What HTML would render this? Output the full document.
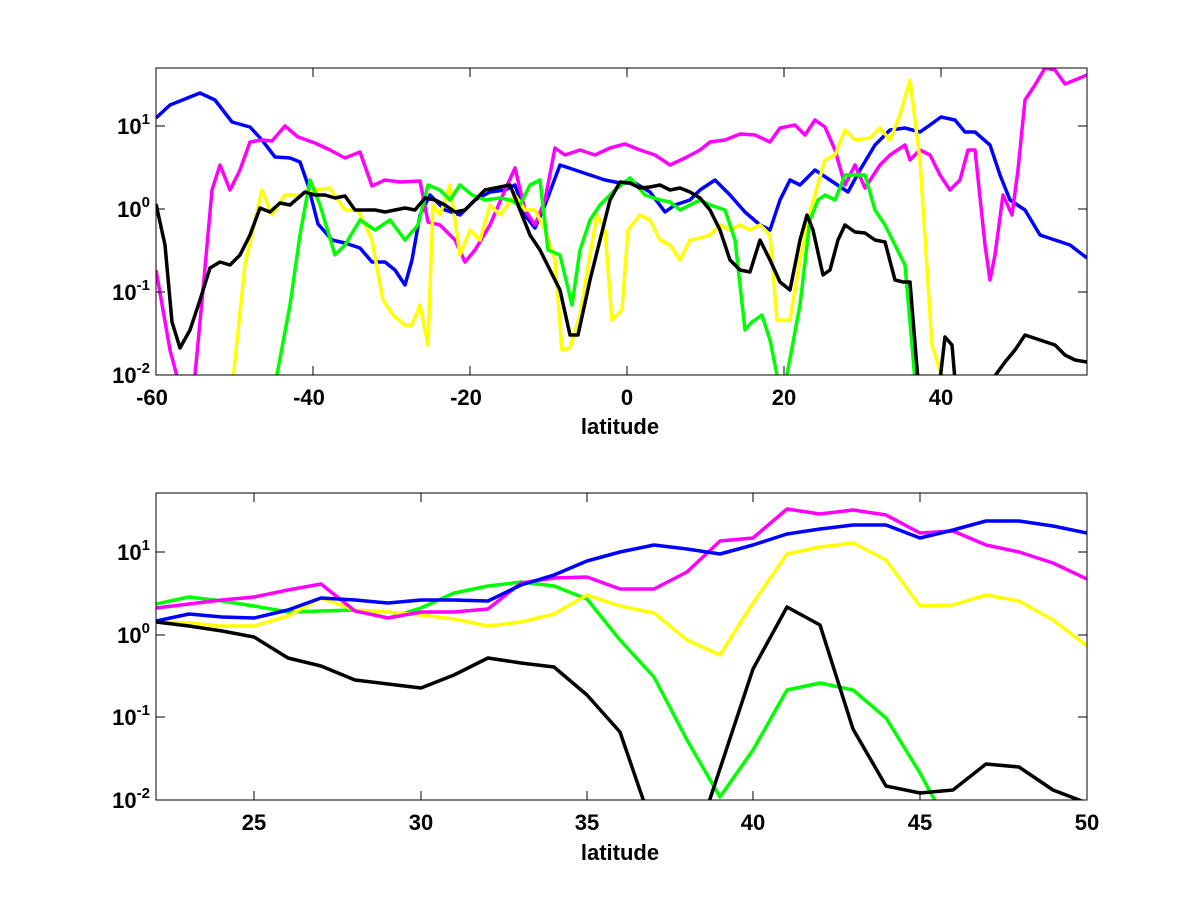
<!DOCTYPE html>
<html><head><meta charset="utf-8"><style>
body{margin:0;background:#fff;}
text{font-family:"Liberation Sans",sans-serif;fill:#000;font-weight:bold;}
</style></head><body>
<svg width="1200" height="900" xmlns="http://www.w3.org/2000/svg">
<defs>
<clipPath id="c1"><rect x="156" y="68" width="931" height="307"/></clipPath>
<clipPath id="c2"><rect x="156" y="493" width="931" height="307"/></clipPath>
</defs>
<rect width="1200" height="900" fill="#fff"/>
<g clip-path="url(#c1)" fill="none" stroke-width="3.5" stroke-linejoin="round">
<polyline stroke="#0000ff" points="156,118 170,105 185,99 200,93 215,100 232,122 250,127 262,140 275,157 290,158 300,162 308,185 318,224 332,240 345,243 360,248 372,262 385,262 395,270 405,285 412,260 420,215 430,195 445,210 460,215 475,200 490,192 505,190 515,185 525,215 535,228 545,205 560,165 575,170 590,175 605,180 620,183 635,183 650,192 665,212 675,205 690,200 700,190 715,180 730,195 745,212 760,225 770,230 780,200 790,180 800,185 815,170 830,180 848,192 860,170 875,145 890,130 905,128 920,132 930,125 941,117 955,120 965,132 975,132 990,145 1000,175 1010,200 1025,210 1040,235 1055,240 1070,245 1087,258"/>
<polyline stroke="#ff00ff" points="156,270 163,310 170,350 178,380 190,380 195,375 203,290 212,190 220,165 230,190 240,170 250,142 262,140 272,141 285,126 298,137 315,143 330,150 345,158 360,152 372,186 385,180 400,182 420,181 428,222 440,225 455,240 465,262 475,250 490,225 505,190 515,168 525,210 535,225 545,200 555,148 565,155 580,150 595,155 610,148 625,144 640,150 655,155 670,165 685,158 700,150 710,142 725,140 740,134 755,135 770,142 780,128 795,125 805,135 815,120 825,127 835,150 845,185 855,165 865,188 880,165 890,155 905,145 910,160 920,150 930,155 940,175 950,190 960,180 968,150 975,150 985,245 990,280 995,255 1003,195 1012,215 1018,170 1025,100 1035,85 1045,68 1055,70 1065,84 1075,80 1087,75"/>
<polyline stroke="#ffff00" points="233,380 245,265 262,190 272,215 285,195 300,195 315,190 330,188 345,210 358,210 372,240 383,300 393,315 405,325 412,325 420,305 428,345 433,205 440,215 450,185 460,255 470,230 480,240 490,205 500,215 515,195 525,210 535,210 545,230 555,260 562,350 570,348 580,315 590,255 597,215 605,230 612,320 622,310 628,230 640,215 650,220 660,240 670,245 680,260 690,240 700,238 710,235 720,225 730,230 740,225 750,230 760,225 770,235 777,320 790,320 800,260 812,205 825,160 835,155 845,130 855,140 870,138 880,128 890,140 900,115 910,80 920,160 932,345 940,370 945,380"/>
<polyline stroke="#00ff00" points="276,380 290,305 300,235 310,180 320,205 335,255 345,245 360,220 375,230 390,220 405,240 418,225 428,185 440,190 450,200 460,185 472,195 485,200 500,198 510,200 520,205 530,185 540,180 548,250 560,255 572,305 580,250 590,220 600,205 615,190 630,178 645,195 660,200 670,202 680,210 690,205 700,200 710,205 725,210 735,240 745,330 752,322 762,315 770,340 778,380"/>
<polyline stroke="#00ff00" points="786,380 800,305 810,220 818,200 825,195 835,200 845,175 855,175 865,175 875,210 885,225 895,245 905,265 915,380"/>
<polyline stroke="#000000" points="156,204 165,245 172,322 180,348 190,330 200,300 210,268 220,262 230,265 240,255 250,235 260,208 270,212 280,203 290,205 305,192 315,195 325,195 335,198 345,196 355,210 365,210 375,210 385,212 395,210 405,208 415,210 425,198 435,200 445,205 455,212 465,210 475,200 485,190 495,188 510,185 520,210 530,235 540,250 550,270 560,290 570,335 578,335 590,280 600,240 610,200 620,182 630,183 640,188 650,187 660,185 670,190 680,188 690,192 700,198 710,210 720,230 730,260 740,270 750,272 760,240 770,260 780,282 790,290 800,240 807,215 813,230 823,275 830,270 838,240 845,225 855,232 865,233 875,240 885,242 895,280 903,282 910,282 918,380"/>
<polyline stroke="#000000" points="940,380 945,337 952,345 955,380"/>
<polyline stroke="#000000" points="992,380 1005,362 1015,350 1025,335 1040,340 1055,345 1065,355 1075,360 1087,362"/>
</g>
<rect x="156" y="68" width="931" height="307" fill="none" stroke="#000" stroke-width="1"/>
<g stroke="#000" stroke-width="1">
<line x1="313" y1="375" x2="313" y2="366"/><line x1="470" y1="375" x2="470" y2="366"/><line x1="627" y1="375" x2="627" y2="366"/><line x1="784" y1="375" x2="784" y2="366"/><line x1="941" y1="375" x2="941" y2="366"/>
<line x1="313" y1="68" x2="313" y2="77"/><line x1="470" y1="68" x2="470" y2="77"/><line x1="627" y1="68" x2="627" y2="77"/><line x1="784" y1="68" x2="784" y2="77"/><line x1="941" y1="68" x2="941" y2="77"/>
<line x1="156" y1="292" x2="165" y2="292"/><line x1="156" y1="209" x2="165" y2="209"/><line x1="156" y1="126" x2="165" y2="126"/>
<line x1="1087" y1="292" x2="1078" y2="292"/><line x1="1087" y1="209" x2="1078" y2="209"/><line x1="1087" y1="126" x2="1078" y2="126"/>
</g>
<g font-size="22" text-anchor="middle">
<text x="152" y="405">-60</text><text x="309" y="405">-40</text><text x="466" y="405">-20</text><text x="627" y="405">0</text><text x="784" y="405">20</text><text x="941" y="405">40</text>
<text x="620" y="434">latitude</text>
</g>
<g font-size="22" text-anchor="end">
<text x="150" y="383">10<tspan font-size="15" dy="-10">-2</tspan></text>
<text x="150" y="300">10<tspan font-size="15" dy="-10">-1</tspan></text>
<text x="150" y="217">10<tspan font-size="15" dy="-10">0</tspan></text>
<text x="150" y="134">10<tspan font-size="15" dy="-10">1</tspan></text>
</g>
<g clip-path="url(#c2)" fill="none" stroke-width="3.5" stroke-linejoin="round">
<polyline stroke="#00ff00" points="156,604 189,597 222,601 254,606 288,612 321,611 355,610 388,618 421,608 454,593 488,586 521,582 554,586 587,599 620,640 654,677 687,740 720,797 753,750 787,690 820,683 853,690 886,718 920,773 940,810"/>
<polyline stroke="#ffff00" points="156,622 189,623 222,626 254,626 288,616 321,598 355,610 388,612 421,615 454,619 488,626 521,622 554,614 587,595 620,606 654,613 687,640 720,655 753,603 787,554 820,547 853,543 886,560 920,606 953,605 986,595 1019,601 1053,620 1087,646"/>
<polyline stroke="#ff00ff" points="156,608 189,604 222,600 254,597 288,590 321,584 355,611 388,618 421,612 454,612 488,609 521,583 554,578 587,577 620,589 654,589 687,572 720,541 753,538 787,509 820,514 853,510 886,515 920,533 953,531 986,545 1019,552 1053,563 1087,579"/>
<polyline stroke="#0000ff" points="156,621 189,614 222,617 254,618 288,610 321,598 355,600 388,603 421,600 454,600 488,601 521,585 554,575 587,561 620,552 654,545 687,549 720,554 753,545 787,534 820,529 853,525 886,525 920,538 953,530 986,521 1019,521 1053,526 1087,533"/>
<polyline stroke="#000000" points="156,622 189,626 222,631 254,637 288,658 321,666 355,680 388,684 421,688 454,675 488,658 521,663 554,667 587,695 620,732 645,805"/>
<polyline stroke="#000000" points="708,805 753,669 787,607 820,625 853,729 886,786 920,793 953,790 986,764 1019,767 1053,790 1087,803"/>
</g>
<rect x="156" y="493" width="931" height="307" fill="none" stroke="#000" stroke-width="1"/>
<g stroke="#000" stroke-width="1">
<line x1="254" y1="800" x2="254" y2="791"/><line x1="421" y1="800" x2="421" y2="791"/><line x1="587" y1="800" x2="587" y2="791"/><line x1="753" y1="800" x2="753" y2="791"/><line x1="920" y1="800" x2="920" y2="791"/>
<line x1="254" y1="493" x2="254" y2="502"/><line x1="421" y1="493" x2="421" y2="502"/><line x1="587" y1="493" x2="587" y2="502"/><line x1="753" y1="493" x2="753" y2="502"/><line x1="920" y1="493" x2="920" y2="502"/>
<line x1="156" y1="717" x2="165" y2="717"/><line x1="156" y1="635" x2="165" y2="635"/><line x1="156" y1="552" x2="165" y2="552"/>
<line x1="1087" y1="717" x2="1078" y2="717"/><line x1="1087" y1="635" x2="1078" y2="635"/><line x1="1087" y1="552" x2="1078" y2="552"/>
</g>
<g font-size="22" text-anchor="middle">
<text x="254" y="830">25</text><text x="421" y="830">30</text><text x="587" y="830">35</text><text x="753" y="830">40</text><text x="920" y="830">45</text><text x="1087" y="830">50</text>
<text x="620" y="860">latitude</text>
</g>
<g font-size="22" text-anchor="end">
<text x="150" y="808">10<tspan font-size="15" dy="-10">-2</tspan></text>
<text x="150" y="725">10<tspan font-size="15" dy="-10">-1</tspan></text>
<text x="150" y="643">10<tspan font-size="15" dy="-10">0</tspan></text>
<text x="150" y="560">10<tspan font-size="15" dy="-10">1</tspan></text>
</g>
</svg>
</body></html>
